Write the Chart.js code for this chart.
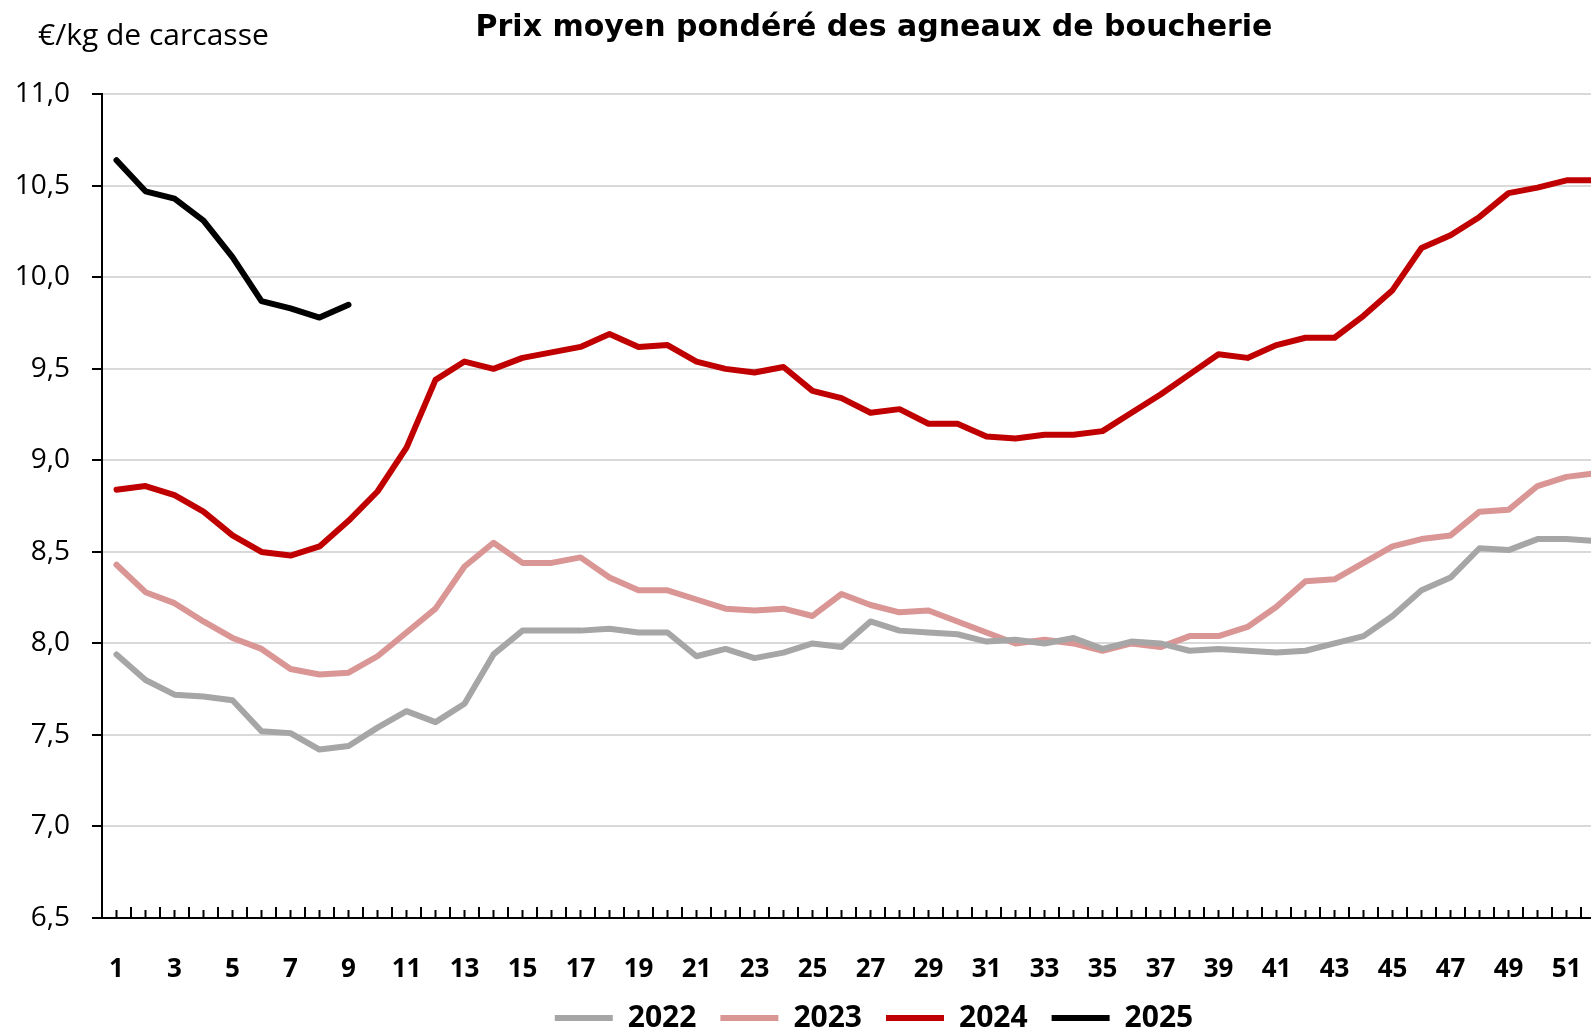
<!DOCTYPE html>
<html lang="fr">
<head>
<meta charset="utf-8">
<title>Prix moyen pondéré des agneaux de boucherie</title>
<script src="https://cdn.jsdelivr.net/npm/chart.js@4.4.1/dist/chart.umd.min.js"></script>
<style>
  html, body { margin: 0; padding: 0; background: #fff; overflow: hidden; }
  #chart { display: block; }
</style>
</head>
<body>
<canvas id="chart" width="1748" height="1043"></canvas>
<script>
// Semaines
const weeks = ['1', '2', '3', '4', '5', '6', '7', '8', '9', '10',
    '11', '12', '13', '14', '15', '16', '17', '18', '19', '20',
    '21', '22', '23', '24', '25', '26', '27', '28', '29', '30',
    '31', '32', '33', '34', '35', '36', '37', '38', '39', '40',
    '41', '42', '43', '44', '45', '46', '47', '48', '49', '50',
    '51', '52'];

// Prix en €/kg de carcasse
const prix2022 = [7.94, 7.80, 7.72, 7.71, 7.69, 7.52, 7.51, 7.42, 7.44, 7.54,
    7.63, 7.57, 7.67, 7.94, 8.07, 8.07, 8.07, 8.08, 8.06, 8.06,
    7.93, 7.97, 7.92, 7.95, 8.00, 7.98, 8.12, 8.07, 8.06, 8.05,
    8.01, 8.02, 8.00, 8.03, 7.97, 8.01, 8.00, 7.96, 7.97, 7.96,
    7.95, 7.96, 8.00, 8.04, 8.15, 8.29, 8.36, 8.52, 8.51, 8.57,
    8.57, 8.56];
const prix2023 = [8.43, 8.28, 8.22, 8.12, 8.03, 7.97, 7.86, 7.83, 7.84, 7.93,
    8.06, 8.19, 8.42, 8.55, 8.44, 8.44, 8.47, 8.36, 8.29, 8.29,
    8.24, 8.19, 8.18, 8.19, 8.15, 8.27, 8.21, 8.17, 8.18, 8.12,
    8.06, 8.00, 8.02, 8.00, 7.96, 8.00, 7.98, 8.04, 8.04, 8.09,
    8.20, 8.34, 8.35, 8.44, 8.53, 8.57, 8.59, 8.72, 8.73, 8.86,
    8.91, 8.93];
const prix2024 = [8.84, 8.86, 8.81, 8.72, 8.59, 8.50, 8.48, 8.53, 8.67, 8.83,
    9.07, 9.44, 9.54, 9.50, 9.56, 9.59, 9.62, 9.69, 9.62, 9.63,
    9.54, 9.50, 9.48, 9.51, 9.38, 9.34, 9.26, 9.28, 9.20, 9.20,
    9.13, 9.12, 9.14, 9.14, 9.16, 9.26, 9.36, 9.47, 9.58, 9.56,
    9.63, 9.67, 9.67, 9.79, 9.93, 10.16, 10.23, 10.33, 10.46, 10.49,
    10.53, 10.53];
const prix2025 = [10.64, 10.47, 10.43, 10.31, 10.11, 9.87, 9.83, 9.78, 9.85];

const yTickValues = [6.5, 7.0, 7.5, 8.0, 8.5, 9.0, 9.5, 10.0, 10.5, 11.0];

const FONT = '"Open Sans", "DejaVu Sans", sans-serif';
const TITLE_FONT = '"DejaVu Sans", "Open Sans", sans-serif';

// petites graduations de l'axe X (vers le haut) + unité de l'axe Y
const axisMarks = {
    id: 'axisMarks',
    afterDraw(chart) {
        const ctx = chart.ctx;
        const xs = chart.scales.x;
        const area = chart.chartArea;
        const half = (xs.getPixelForValue(1) - xs.getPixelForValue(0)) / 2;
        ctx.save();
        ctx.strokeStyle = '#000';
        ctx.lineWidth = 2;
        ctx.beginPath();
        weeks.forEach((w, i) => {
            const c = xs.getPixelForValue(i);
            ctx.moveTo(c, area.bottom);
            ctx.lineTo(c, area.bottom - 8);
            ctx.moveTo(c + half, area.bottom);
            ctx.lineTo(c + half, area.bottom - 11);
        });
        ctx.stroke();

        ctx.fillStyle = '#000';
        ctx.font = '30px ' + FONT;
        ctx.textAlign = 'left';
        ctx.textBaseline = 'alphabetic';
        ctx.fillText('€/kg de carcasse', area.left - 64, area.top - 49);
        ctx.restore();
    }
};

function serie(label, data, color) {
    return {
        label: label,
        data: data,
        borderColor: color,
        backgroundColor: color,
        borderWidth: 6,
        borderCapStyle: 'round',
        borderJoinStyle: 'round',
        pointRadius: 0,
        pointHoverRadius: 0,
        tension: 0
    };
}

const ctx = document.getElementById('chart').getContext('2d');
const chart = new Chart(ctx, {
    type: 'line',
    data: {
        labels: weeks,
        datasets: [
            serie('2022', prix2022, '#a6a6a6'),
            serie('2023', prix2023, '#d99694'),
            serie('2024', prix2024, '#c00000'),
            serie('2025', prix2025, '#000000')
        ]
    },
    options: {
        responsive: false,
        animation: false,
        layout: { padding: 0 },
        plugins: {
            tooltip: { enabled: false },
            title: {
                display: true,
                text: 'Prix moyen pondéré des agneaux de boucherie',
                color: '#000',
                font: { family: TITLE_FONT, size: 30, weight: 'bold', lineHeight: 1.2 },
                padding: { top: 10, bottom: 48.3 }
            },
            legend: {
                position: 'bottom',
                labels: {
                    color: '#000',
                    font: { family: FONT, size: 30, weight: 'bold' },
                    usePointStyle: true,
                    pointStyle: 'line',
                    pointStyleWidth: 58,
                    padding: 24
                }
            }
        },
        scales: {
            x: {
                type: 'category',
                offset: true,
                grid: { display: false },
                border: { color: '#000', width: 2 },
                ticks: {
                    autoSkip: false,
                    maxRotation: 0,
                    padding: 28,
                    color: '#000',
                    font: { family: FONT, size: 26, weight: 'bold' },
                    callback: function(value, index) {
                        return index % 2 === 0 ? weeks[index] : '';
                    }
                },
                afterFit: function(scale) { scale.height = 61; }
            },
            y: {
                min: 6.5,
                max: 11,
                afterBuildTicks: function(scale) {
                    scale.ticks = yTickValues.map(v => ({ value: v }));
                },
                grid: {
                    color: '#d9d9d9',
                    lineWidth: 2,
                    tickColor: '#000',
                    tickLength: 10
                },
                border: { color: '#000', width: 2 },
                ticks: {
                    padding: 22,
                    color: '#000',
                    font: { family: FONT, size: 28 },
                    callback: function(value) {
                        return value.toFixed(1).replace('.', ',');
                    }
                },
                afterFit: function(scale) { scale.width = 102; }
            },
            // axe vide à droite : le graphique d'origine est rogné
            y2: {
                position: 'right',
                display: true,
                grid: { display: false },
                border: { display: false },
                ticks: { display: false },
                afterFit: function(scale) { scale.width = 138; }
            }
        }
    },
    plugins: [axisMarks]
});
</script>
</body>
</html>
